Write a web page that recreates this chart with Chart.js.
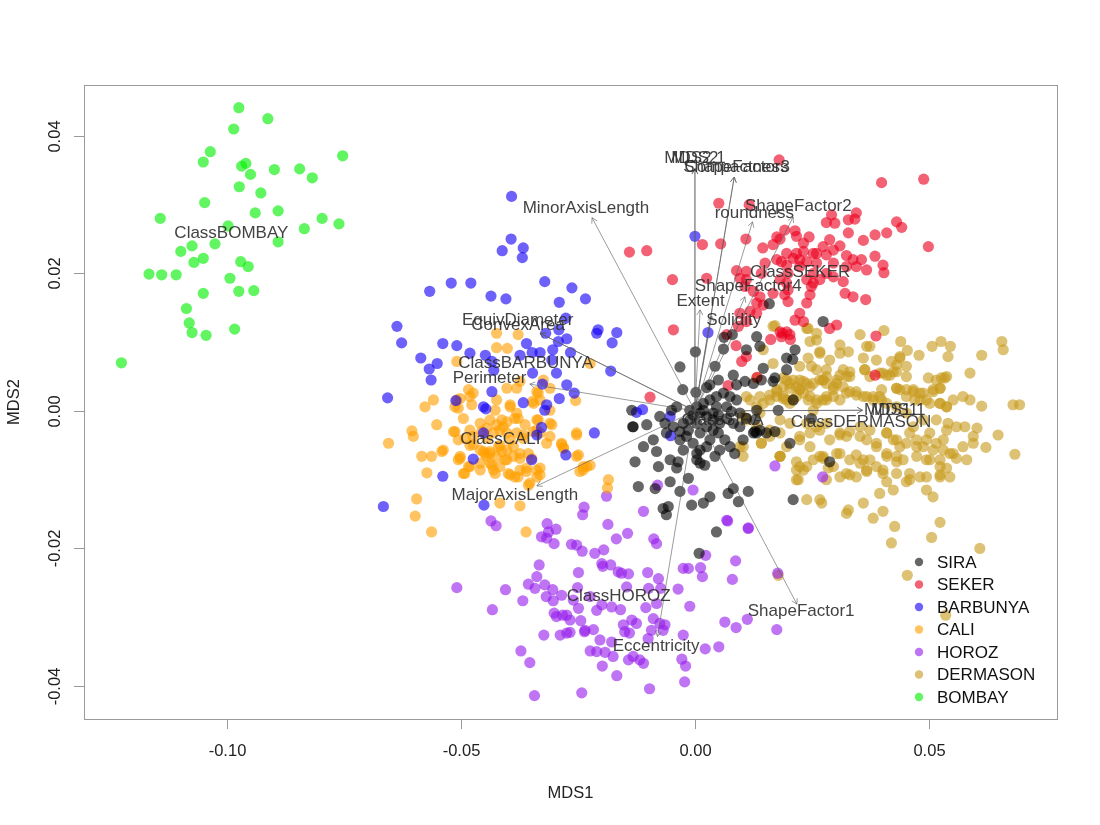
<!DOCTYPE html>
<html><head><meta charset="utf-8">
<script src="https://cdn.jsdelivr.net/npm/chart.js@4.4.1/dist/chart.umd.min.js"></script>
<style>html,body{margin:0;padding:0;background:#fff}#wrap{width:1100px;height:825px;position:relative}</style>
</head><body><div id="wrap"><canvas id="c" width="1100" height="825"></canvas></div>
<script>
const classes = ['SIRA','SEKER','BARBUNYA','CALI','HOROZ','DERMASON','BOMBAY'];
const classColors = ['rgba(0,0,0,0.6)','rgba(235,0,30,0.62)','rgba(20,0,245,0.62)','rgba(255,160,0,0.62)','rgba(150,30,235,0.62)','rgba(200,155,30,0.62)','rgba(0,240,0,0.62)'];

const sira = [[0.0001,0.0086],[-0.0032,0.0064],[-0.0026,0.0031],[0.0002,0.0027],[0.0062,0.0107],[0.0080,0.0111],[0.0061,0.0090],[0.0110,0.0089],[0.0132,0.0108],[0.0139,0.0094],[0.0159,0.0156],[0.0214,0.0089],[0.0196,0.0077],[0.0209,0.0075],[0.0274,0.0130],[0.0043,0.0065],[0.0082,0.0052],[0.0050,0.0045],[0.0032,0.0038],[0.0025,0.0034],[0.0089,0.0038],[0.0107,0.0043],[0.0125,0.0040],[0.0146,0.0062],[0.0142,0.0045],[0.0167,0.0043],[0.0196,0.0060],[0.0004,0.0006],[0.0018,0.0001],[0.0046,0.0006],[0.0050,-0.0006],[0.0068,-0.0011],[0.0078,-0.0001],[0.0096,-0.0003],[0.0110,-0.0011],[0.0128,-0.0013],[0.0139,-0.0028],[0.0125,-0.0032],[-0.0011,-0.0013],[-0.0025,-0.0018],[0.0004,-0.0018],[0.0025,-0.0023],[0.0039,-0.0028],[0.0011,-0.0032],[-0.0018,-0.0037],[-0.0032,-0.0042],[-0.0004,-0.0047],[0.0011,-0.0057],[0.0032,-0.0042],[0.0050,-0.0032],[0.0064,-0.0042],[0.0075,-0.0052],[0.0085,-0.0062],[0.0053,-0.0057],[0.0103,-0.0042],[0.0153,-0.0032],[0.0132,0.0001],[-0.0039,0.0006],[-0.0050,0.0001],[-0.0075,-0.0008],[-0.0103,-0.0020],[-0.0132,-0.0023],[-0.0064,-0.0018],[-0.0046,-0.0023],[-0.0032,-0.0030],[-0.0061,-0.0032],[-0.0089,-0.0042],[-0.0110,-0.0052],[-0.0082,-0.0059],[-0.0128,-0.0074],[-0.0078,-0.0081],[-0.0053,-0.0071],[-0.0036,-0.0074],[-0.0039,-0.0083],[-0.0053,-0.0103],[-0.0014,-0.0098],[0.0011,-0.0076],[0.0021,-0.0079],[0.0004,-0.0062],[-0.0032,-0.0117],[-0.0121,-0.0110],[-0.0085,-0.0113],[-0.0057,-0.0139],[-0.0068,-0.0142],[-0.0061,-0.0151],[-0.0007,-0.0137],[0.0018,-0.0134],[0.0032,-0.0125],[0.0071,-0.0120],[0.0082,-0.0113],[0.0114,-0.0117],[0.0093,-0.0132],[0.0046,-0.0176],[0.0210,-0.0129],[0.0203,-0.0047],[0.0288,-0.0074],[-0.0135,0.0001],[-0.0133,-0.0023],[0.0171,-0.0030],[0.0128,-0.0030],[0.0009,-0.0207],[0.0011,-0.0003],[0.0025,-0.0008],[0.0039,-0.0013],[0.0053,-0.0018],[0.0018,0.0011],[0.0032,0.0016],[0.0046,0.0021],[0.0061,0.0026],[0.0075,0.0021],[0.0089,0.0016],[0.0068,0.0006],[0.0082,-0.0018],[0.0096,-0.0023],[0.0039,-0.0003],[-0.0004,-0.0006],[-0.0014,-0.0028],[0.0025,-0.0052],[0.0043,-0.0066],[0.0004,-0.0071],[-0.0025,-0.0057],[-0.0011,0.0001],[0.0171,0.0048],[0.0178,0.0001],[0.0132,-0.0032],[0.0249,-0.0011],[0.0210,0.0016]];

const seker = [[0.0180,0.0365],[0.0399,0.0332],[0.0489,0.0337],[0.0051,0.0302],[0.0116,0.0300],[0.0292,0.0285],[0.0299,0.0273],[0.0281,0.0274],[0.0328,0.0278],[0.0345,0.0288],[0.0342,0.0279],[0.0431,0.0275],[0.0442,0.0267],[0.0499,0.0239],[0.0328,0.0259],[0.0192,0.0263],[0.0214,0.0262],[0.0217,0.0254],[0.0244,0.0253],[0.0182,0.0250],[0.0175,0.0253],[0.0109,0.0250],[0.0016,0.0242],[0.0055,0.0243],[-0.0140,0.0231],[-0.0103,0.0233],[0.0145,0.0237],[0.0167,0.0242],[0.0232,0.0244],[0.0260,0.0229],[0.0288,0.0249],[0.0310,0.0240],[0.0296,0.0234],[0.0360,0.0248],[0.0385,0.0256],[0.0410,0.0259],[0.0385,0.0225],[0.0402,0.0212],[0.0404,0.0201],[0.0274,0.0239],[0.0281,0.0227],[0.0324,0.0226],[0.0338,0.0220],[0.0356,0.0220],[0.0324,0.0210],[0.0345,0.0210],[0.0367,0.0205],[0.0196,0.0229],[0.0217,0.0229],[0.0232,0.0232],[0.0253,0.0229],[0.0175,0.0220],[0.0185,0.0217],[0.0210,0.0222],[0.0224,0.0220],[0.0239,0.0217],[0.0260,0.0215],[0.0296,0.0215],[0.0150,0.0215],[0.0142,0.0200],[0.0089,0.0204],[0.0110,0.0203],[0.0196,0.0212],[0.0199,0.0200],[0.0224,0.0210],[0.0253,0.0200],[0.0281,0.0200],[0.0296,0.0195],[0.0317,0.0188],[0.0321,0.0171],[0.0338,0.0166],[0.0365,0.0162],[-0.0048,0.0191],[0.0025,0.0193],[0.0096,0.0193],[0.0110,0.0191],[0.0182,0.0191],[0.0196,0.0186],[0.0239,0.0191],[0.0253,0.0186],[0.0267,0.0191],[0.0107,0.0181],[0.0125,0.0174],[0.0139,0.0166],[0.0167,0.0171],[0.0192,0.0169],[0.0199,0.0176],[0.0246,0.0169],[0.0239,0.0157],[0.0249,0.0181],[0.0132,0.0157],[0.0146,0.0154],[0.0118,0.0145],[0.0132,0.0142],[0.0199,0.0159],[0.0224,0.0142],[0.0214,0.0132],[0.0232,0.0130],[0.0096,0.0142],[0.0110,0.0130],[0.0093,0.0123],[0.0068,0.0111],[0.0182,0.0115],[0.0196,0.0115],[0.0185,0.0108],[0.0203,0.0111],[0.0288,0.0120],[0.0303,0.0125],[-0.0046,0.0118],[-0.0096,0.0020],[0.0088,0.0095],[0.0100,0.0072],[0.0110,0.0079],[0.0071,0.0037],[0.0133,0.0049],[0.0162,0.0104],[0.0187,0.0113],[0.0204,0.0104],[0.0387,0.0109],[0.0385,0.0052]];

const barbunya = [[-0.0392,0.0312],[-0.0393,0.0250],[-0.0367,0.0237],[-0.0412,0.0233],[-0.0369,0.0223],[-0.0567,0.0174],[-0.0521,0.0186],[-0.0479,0.0186],[-0.0321,0.0188],[-0.0263,0.0179],[-0.0436,0.0167],[-0.0404,0.0163],[-0.0234,0.0163],[-0.0290,0.0158],[-0.0637,0.0123],[-0.0627,0.0099],[-0.0539,0.0098],[-0.0509,0.0095],[-0.0586,0.0077],[-0.0551,0.0069],[-0.0568,0.0061],[-0.0564,0.0045],[-0.0481,0.0084],[-0.0448,0.0081],[-0.0434,0.0072],[-0.0430,0.0059],[-0.0360,0.0098],[-0.0348,0.0085],[-0.0331,0.0085],[-0.0374,0.0081],[-0.0319,0.0113],[-0.0291,0.0118],[-0.0276,0.0135],[-0.0274,0.0105],[-0.0292,0.0101],[-0.0304,0.0089],[-0.0306,0.0074],[-0.0266,0.0085],[-0.0210,0.0113],[-0.0207,0.0118],[-0.0167,0.0114],[-0.0177,0.0099],[-0.0180,0.0058],[-0.0296,0.0055],[-0.0347,0.0055],[-0.0326,0.0039],[-0.0274,0.0038],[-0.0258,0.0026],[-0.0290,0.0018],[-0.0367,0.0012],[-0.0317,0.0009],[-0.0321,0.0001],[-0.0452,0.0006],[-0.0447,0.0003],[-0.0434,0.0028],[-0.0511,0.0015],[-0.0657,0.0019],[-0.0328,-0.0024],[-0.0215,-0.0032],[-0.0276,-0.0064],[-0.0452,-0.0032],[-0.0349,-0.0071],[-0.0474,-0.0070],[-0.0539,-0.0095],[-0.0666,-0.0139],[-0.0451,-0.0137],[0.0000,0.0254],[0.0028,0.0114],[-0.0112,0.0002],[-0.0125,-0.0002],[-0.0053,-0.0008],[-0.0052,-0.0036],[-0.0338,-0.0035]];

const cali = [[-0.0424,0.0113],[-0.0378,0.0111],[-0.0424,0.0092],[-0.0401,0.0091],[-0.0224,0.0069],[-0.0509,0.0072],[-0.0484,0.0031],[-0.0474,0.0026],[-0.0577,0.0006],[-0.0559,0.0016],[-0.0509,0.0016],[-0.0506,0.0004],[-0.0481,0.0021],[-0.0424,0.0016],[-0.0402,0.0033],[-0.0381,0.0033],[-0.0374,0.0043],[-0.0324,0.0045],[-0.0335,0.0026],[-0.0347,0.0014],[-0.0310,0.0001],[-0.0255,0.0015],[-0.0395,0.0006],[-0.0495,-0.0011],[-0.0459,-0.0018],[-0.0381,-0.0003],[-0.0378,-0.0011],[-0.0338,-0.0013],[-0.0306,-0.0020],[-0.0552,-0.0020],[-0.0605,-0.0029],[-0.0602,-0.0037],[-0.0655,-0.0047],[-0.0513,-0.0030],[-0.0481,-0.0028],[-0.0474,-0.0037],[-0.0445,-0.0025],[-0.0431,-0.0032],[-0.0417,-0.0028],[-0.0402,-0.0032],[-0.0410,-0.0023],[-0.0381,-0.0032],[-0.0367,-0.0035],[-0.0346,-0.0030],[-0.0317,-0.0047],[-0.0285,-0.0049],[-0.0281,-0.0054],[-0.0253,-0.0035],[-0.0249,-0.0064],[-0.0584,-0.0066],[-0.0563,-0.0066],[-0.0541,-0.0059],[-0.0506,-0.0071],[-0.0502,-0.0066],[-0.0459,-0.0057],[-0.0449,-0.0062],[-0.0438,-0.0062],[-0.0424,-0.0066],[-0.0413,-0.0059],[-0.0406,-0.0071],[-0.0388,-0.0066],[-0.0374,-0.0069],[-0.0356,-0.0062],[-0.0349,-0.0069],[-0.0481,-0.0081],[-0.0492,-0.0091],[-0.0434,-0.0079],[-0.0427,-0.0091],[-0.0399,-0.0091],[-0.0385,-0.0096],[-0.0374,-0.0086],[-0.0360,-0.0088],[-0.0338,-0.0086],[-0.0331,-0.0093],[-0.0573,-0.0090],[-0.0239,-0.0081],[-0.0224,-0.0079],[-0.0246,-0.0088],[-0.0356,-0.0108],[-0.0185,-0.0100],[-0.0595,-0.0128],[-0.0598,-0.0153],[-0.0563,-0.0176],[-0.0417,-0.0134],[-0.0374,-0.0138],[-0.0361,-0.0176],[-0.0187,-0.0112],[-0.0445,-0.0040],[-0.0417,-0.0050],[-0.0395,-0.0042],[-0.0438,-0.0013],[-0.0427,0.0001],[-0.0363,-0.0020],[-0.0481,-0.0050],[-0.0459,-0.0086],[-0.0502,0.0018],[-0.0513,0.0006],[-0.0477,0.0009],[-0.0395,0.0009],[-0.0385,-0.0011],[-0.0338,0.0028],[-0.0331,0.0016],[-0.0345,0.0011],[-0.0310,0.0033],[-0.0456,-0.0030],[-0.0424,-0.0020],[-0.0413,-0.0013],[-0.0402,-0.0016],[-0.0420,-0.0052],[-0.0402,-0.0057],[-0.0388,-0.0052],[-0.0374,-0.0062],[-0.0367,-0.0040],[-0.0335,-0.0013],[-0.0310,-0.0018],[-0.0338,-0.0028],[-0.0331,-0.0032],[-0.0310,-0.0037],[-0.0516,-0.0030],[-0.0506,-0.0042],[-0.0538,-0.0057],[-0.0491,-0.0040],[-0.0474,-0.0049],[-0.0502,-0.0069],[-0.0484,-0.0081],[-0.0495,-0.0091],[-0.0459,-0.0076],[-0.0445,-0.0066],[-0.0438,-0.0076],[-0.0431,-0.0086],[-0.0417,-0.0081],[-0.0395,-0.0093],[-0.0378,-0.0096],[-0.0360,-0.0083],[-0.0338,-0.0096],[-0.0331,-0.0083],[-0.0353,-0.0105],[-0.0438,-0.0059],[-0.0452,-0.0059],[-0.0402,-0.0071],[-0.0285,-0.0047],[-0.0281,-0.0054],[-0.0253,-0.0032],[-0.0253,-0.0066],[-0.0239,-0.0086],[-0.0231,-0.0081]];

const horoz = [[-0.0237,-0.0140],[-0.0240,-0.0151],[-0.0436,-0.0160],[-0.0425,-0.0167],[-0.0316,-0.0164],[-0.0297,-0.0172],[-0.0313,-0.0176],[-0.0328,-0.0183],[-0.0317,-0.0185],[-0.0301,-0.0193],[-0.0186,-0.0165],[-0.0144,-0.0178],[-0.0168,-0.0186],[-0.0264,-0.0194],[-0.0253,-0.0195],[-0.0241,-0.0204],[-0.0214,-0.0207],[-0.0195,-0.0202],[-0.0088,-0.0186],[-0.0082,-0.0193],[0.0070,-0.0160],[0.0114,-0.0170],[0.0023,-0.0210],[0.0087,-0.0218],[0.0080,-0.0245],[0.0016,-0.0241],[0.0012,-0.0228],[-0.0014,-0.0229],[-0.0025,-0.0229],[-0.0333,-0.0224],[-0.0338,-0.0241],[-0.0356,-0.0252],[-0.0342,-0.0258],[-0.0321,-0.0253],[-0.0304,-0.0260],[-0.0318,-0.0270],[-0.0303,-0.0276],[-0.0285,-0.0268],[-0.0283,-0.0297],[-0.0301,-0.0294],[-0.0296,-0.0299],[-0.0368,-0.0276],[-0.0405,-0.0260],[-0.0433,-0.0289],[-0.0509,-0.0257],[-0.0199,-0.0222],[-0.0197,-0.0226],[-0.0180,-0.0224],[-0.0164,-0.0234],[-0.0157,-0.0236],[-0.0142,-0.0237],[-0.0146,-0.0256],[-0.0101,-0.0235],[-0.0078,-0.0244],[-0.0073,-0.0258],[-0.0099,-0.0258],[-0.0249,-0.0235],[-0.0251,-0.0257],[-0.0249,-0.0287],[-0.0274,-0.0297],[-0.0267,-0.0304],[-0.0244,-0.0305],[-0.0235,-0.0319],[-0.0217,-0.0318],[-0.0210,-0.0290],[-0.0199,-0.0282],[-0.0178,-0.0285],[-0.0159,-0.0289],[-0.0203,-0.0333],[-0.0178,-0.0336],[-0.0224,-0.0349],[-0.0210,-0.0350],[-0.0192,-0.0351],[-0.0175,-0.0357],[-0.0198,-0.0371],[-0.0167,-0.0385],[-0.0142,-0.0362],[-0.0132,-0.0357],[-0.0110,-0.0367],[-0.0118,-0.0362],[-0.0140,-0.0323],[-0.0150,-0.0321],[-0.0153,-0.0311],[-0.0135,-0.0304],[-0.0125,-0.0309],[-0.0105,-0.0286],[-0.0082,-0.0280],[-0.0089,-0.0302],[-0.0075,-0.0309],[-0.0064,-0.0311],[-0.0068,-0.0319],[-0.0093,-0.0319],[-0.0100,-0.0331],[-0.0025,-0.0326],[-0.0028,-0.0361],[-0.0020,-0.0371],[-0.0022,-0.0394],[-0.0097,-0.0404],[-0.0242,-0.0410],[-0.0343,-0.0414],[-0.0353,-0.0366],[-0.0372,-0.0349],[-0.0323,-0.0326],[-0.0288,-0.0326],[-0.0274,-0.0323],[-0.0267,-0.0322],[-0.0236,-0.0321],[-0.0011,-0.0284],[0.0022,-0.0346],[0.0051,-0.0343],[0.0064,-0.0307],[0.0088,-0.0315],[0.0112,-0.0303],[0.0175,-0.0318],[0.0177,-0.0236],[-0.0110,-0.0146],[-0.0036,-0.0259],[-0.0260,-0.0275],[-0.0224,-0.0270],[0.0171,-0.0080],[0.0273,-0.0096],[-0.0080,-0.0108],[-0.0004,-0.0115],[-0.0189,-0.0124],[0.0068,-0.0159],[0.0114,-0.0171]];

const dermason = [[0.0171,0.0124],[0.0242,0.0120],[0.0260,0.0113],[0.0246,0.0101],[0.0260,0.0103],[0.0353,0.0111],[0.0404,0.0117],[0.0374,0.0094],[0.0440,0.0101],[0.0454,0.0088],[0.0479,0.0081],[0.0507,0.0094],[0.0526,0.0101],[0.0546,0.0094],[0.0541,0.0079],[0.0613,0.0081],[0.0656,0.0101],[0.0659,0.0089],[0.0310,0.0096],[0.0328,0.0086],[0.0310,0.0084],[0.0288,0.0074],[0.0242,0.0077],[0.0249,0.0065],[0.0281,0.0060],[0.0267,0.0084],[0.0360,0.0077],[0.0363,0.0060],[0.0395,0.0055],[0.0410,0.0052],[0.0424,0.0057],[0.0431,0.0067],[0.0438,0.0077],[0.0420,0.0072],[0.0499,0.0048],[0.0527,0.0048],[0.0538,0.0050],[0.0588,0.0055],[0.0509,0.0031],[0.0524,0.0033],[0.0552,0.0016],[0.0573,0.0021],[0.0588,0.0016],[0.0613,0.0007],[0.0680,0.0009],[0.0694,0.0009],[0.0648,-0.0035],[0.0622,-0.0053],[0.0684,-0.0063],[0.0603,-0.0025],[0.0577,-0.0023],[0.0595,-0.0037],[0.0431,0.0033],[0.0438,0.0031],[0.0467,0.0031],[0.0481,0.0026],[0.0452,0.0021],[0.0470,0.0016],[0.0495,0.0016],[0.0524,0.0011],[0.0538,0.0006],[0.0399,0.0031],[0.0395,0.0021],[0.0381,0.0016],[0.0367,0.0021],[0.0345,0.0023],[0.0324,0.0026],[0.0310,0.0016],[0.0296,0.0021],[0.0274,0.0016],[0.0260,0.0011],[0.0246,0.0021],[0.0224,0.0045],[0.0239,0.0040],[0.0203,0.0040],[0.0189,0.0035],[0.0175,0.0031],[0.0160,0.0023],[0.0139,0.0021],[0.0189,0.0021],[0.0210,0.0016],[0.0224,0.0031],[0.0267,0.0045],[0.0281,0.0040],[0.0303,0.0045],[0.0324,0.0050],[0.0331,0.0057],[0.0310,0.0052],[0.0103,-0.0008],[0.0139,-0.0003],[0.0160,-0.0028],[0.0142,-0.0047],[0.0103,-0.0052],[0.0182,-0.0013],[0.0203,-0.0018],[0.0239,-0.0018],[0.0260,-0.0023],[0.0281,-0.0018],[0.0310,-0.0032],[0.0331,-0.0030],[0.0353,-0.0037],[0.0367,-0.0042],[0.0388,-0.0047],[0.0410,-0.0032],[0.0424,-0.0042],[0.0438,-0.0052],[0.0459,-0.0032],[0.0474,-0.0042],[0.0488,-0.0052],[0.0502,-0.0032],[0.0516,-0.0047],[0.0531,-0.0057],[0.0552,-0.0062],[0.0573,-0.0052],[0.0595,-0.0047],[0.0538,-0.0028],[0.0559,-0.0023],[0.0182,-0.0066],[0.0217,-0.0074],[0.0232,-0.0086],[0.0221,-0.0100],[0.0253,-0.0071],[0.0274,-0.0066],[0.0285,-0.0083],[0.0310,-0.0096],[0.0331,-0.0093],[0.0303,-0.0062],[0.0345,-0.0064],[0.0360,-0.0071],[0.0367,-0.0088],[0.0388,-0.0081],[0.0410,-0.0066],[0.0431,-0.0074],[0.0445,-0.0071],[0.0402,-0.0091],[0.0410,-0.0103],[0.0424,-0.0115],[0.0395,-0.0120],[0.0452,-0.0103],[0.0459,-0.0100],[0.0481,-0.0096],[0.0495,-0.0115],[0.0509,-0.0125],[0.0524,-0.0096],[0.0538,-0.0083],[0.0559,-0.0069],[0.0581,-0.0071],[0.0524,-0.0071],[0.0495,-0.0071],[0.0239,-0.0129],[0.0271,-0.0134],[0.0328,-0.0144],[0.0324,-0.0149],[0.0360,-0.0134],[0.0381,-0.0156],[0.0402,-0.0146],[0.0427,-0.0168],[0.0420,-0.0192],[0.0506,-0.0184],[0.0524,-0.0162],[0.0609,-0.0200],[0.0454,-0.0239],[0.0536,-0.0297],[0.0178,-0.0239],[0.0167,0.0123],[0.0239,0.0120],[0.0267,0.0086],[0.0196,0.0045],[0.0217,0.0035],[0.0232,0.0026],[0.0253,0.0040],[0.0274,0.0045],[0.0296,0.0035],[0.0175,0.0021],[0.0196,0.0016],[0.0253,0.0001],[0.0281,0.0016],[0.0118,0.0016],[0.0132,0.0006],[0.0110,-0.0013],[0.0132,-0.0023],[0.0096,-0.0052],[0.0103,-0.0066],[0.0160,-0.0037],[0.0182,-0.0032],[0.0196,-0.0052],[0.0224,-0.0037],[0.0246,-0.0052],[0.0267,-0.0066],[0.0224,-0.0081],[0.0182,-0.0066],[0.0217,-0.0100],[0.0267,-0.0129],[0.0281,-0.0100],[0.0146,0.0089],[0.0167,0.0069],[0.0224,0.0065],[0.0260,0.0060],[0.0132,0.0048],[0.0110,0.0021],
[0.0317,0.0060],[0.0331,0.0050],[0.0367,0.0094],[0.0388,0.0074],[0.0363,0.0060],[0.0374,0.0050],[0.0402,0.0055],[0.0417,0.0052],[0.0431,0.0057],[0.0452,0.0050],[0.0452,0.0065],[0.0438,0.0079],[0.0431,0.0033],[0.0452,0.0031],[0.0467,0.0028],[0.0488,0.0026],[0.0509,0.0028],[0.0524,0.0033],[0.0534,0.0048],[0.0516,0.0045],[0.0481,0.0016],[0.0502,0.0011],[0.0524,0.0011],[0.0538,0.0006],[0.0541,-0.0018],[0.0516,-0.0013],[0.0488,-0.0013],[0.0467,-0.0023],[0.0452,-0.0003],[0.0431,0.0006],[0.0410,0.0011],[0.0399,0.0016],[0.0381,0.0021],[0.0360,0.0021],[0.0345,0.0028],[0.0331,0.0028],[0.0317,0.0035],[0.0303,0.0040],[0.0296,0.0031],[0.0281,0.0021],[0.0260,0.0016],[0.0242,0.0016],[0.0217,0.0021],[0.0203,0.0011],[0.0189,0.0018],[0.0175,0.0028],[0.0160,0.0016],[0.0146,0.0011],[0.0189,0.0048],[0.0210,0.0045],[0.0232,0.0043],[0.0246,0.0035],[0.0274,0.0045],[0.0281,0.0050],[0.0203,0.0033],[0.0224,0.0031],[0.0142,-0.0047],[0.0182,-0.0066],[0.0224,-0.0042],[0.0246,-0.0032],[0.0267,-0.0028],[0.0288,-0.0042],[0.0310,-0.0035],[0.0324,-0.0037],[0.0353,-0.0023],[0.0374,-0.0028],[0.0410,-0.0032],[0.0431,-0.0042],[0.0452,-0.0047],[0.0474,-0.0052],[0.0495,-0.0042],[0.0509,-0.0057],[0.0531,-0.0042],[0.0545,-0.0062],[0.0310,-0.0062],[0.0331,-0.0071],[0.0353,-0.0076],[0.0374,-0.0071],[0.0388,-0.0052],[0.0410,-0.0062],[0.0431,-0.0066],[0.0474,-0.0066],[0.0502,-0.0071],[0.0524,-0.0081],[0.0217,-0.0086],[0.0239,-0.0081],[0.0274,-0.0069],[0.0296,-0.0081],[0.0324,-0.0091],[0.0345,-0.0096],[0.0367,-0.0086],[0.0402,-0.0086],[0.0431,-0.0091],[0.0459,-0.0091],[0.0495,-0.0096],[0.0524,-0.0093],[0.0545,-0.0096]];

const bombay = [[-0.0975,0.0441],[-0.0913,0.0425],[-0.0986,0.0410],[-0.1036,0.0377],[-0.1051,0.0362],[-0.0753,0.0371],[-0.0969,0.0356],[-0.0960,0.0360],[-0.0950,0.0344],[-0.0899,0.0351],[-0.0845,0.0352],[-0.0818,0.0339],[-0.0974,0.0326],[-0.0928,0.0317],[-0.1048,0.0303],[-0.0940,0.0288],[-0.0891,0.0291],[-0.1143,0.0280],[-0.0797,0.0280],[-0.0761,0.0272],[-0.0835,0.0265],[-0.0998,0.0269],[-0.0891,0.0246],[-0.1026,0.0243],[-0.1075,0.0240],[-0.1099,0.0232],[-0.1051,0.0222],[-0.1071,0.0216],[-0.0971,0.0217],[-0.0955,0.0210],[-0.1167,0.0199],[-0.1140,0.0198],[-0.1109,0.0198],[-0.0994,0.0193],[-0.1051,0.0171],[-0.0975,0.0174],[-0.0943,0.0175],[-0.1087,0.0149],[-0.1081,0.0128],[-0.1075,0.0114],[-0.1045,0.0110],[-0.0984,0.0119],[-0.1226,0.0070]];

const classPoints = [sira, seker, barbunya, cali, horoz, dermason, bombay];

// axis ticks
const xTicks = [-0.10, -0.05, 0.00, 0.05];
const xTickLabels = ['-0.10', '-0.05', '0.00', '0.05'];
const yTicks = [-0.04, -0.02, 0.00, 0.02, 0.04];
const yTickLabels = ['-0.04', '-0.02', '0.00', '0.02', '0.04'];
const xTitle = 'MDS1', yTitle = 'MDS2';

// fitted vectors (arrow tip + label position)
const vecNames = ['MinorAxisLength','MDS2','MDS2.1','ShapeFactor3','Compactness','roundness','ShapeFactor2','ShapeFactor4','Extent','Solidity','EquivDiameter','ConvexArea','Perimeter','MajorAxisLength','MDS1','MDS1.1','ShapeFactor1','Eccentricity'];
const vecTipX = [-0.0220, 0.0000, 0.0000, 0.0084, 0.0084, 0.0123, 0.0210, 0.0107, 0.0011, 0.0036, -0.0331, -0.0331, -0.0353, -0.0338, 0.0358, 0.0358, 0.0218, -0.0080];
const vecTipY = [0.0281, 0.0352, 0.0352, 0.0340, 0.0340, 0.0275, 0.0282, 0.0166, 0.0147, 0.0138, 0.0113, 0.0113, 0.0039, -0.0109, 0.0001, 0.0001, -0.0281, -0.0328];
const vecLabX = [-0.0233, 0.0000, 0.0000, 0.0089, 0.0089, 0.0127, 0.0221, 0.0114, 0.0012, 0.0083, -0.0379, -0.0378, -0.0439, -0.0385, 0.0427, 0.0427, 0.0227, -0.0083];
const vecLabY = [0.0294, 0.0368, 0.0368, 0.0355, 0.0355, 0.0288, 0.0297, 0.0181, 0.0159, 0.0132, 0.0132, 0.0124, 0.0047, -0.0122, 0.0001, 0.0001, -0.0292, -0.0343];

// class centroids
const ctrNames = ['ClassBOMBAY','ClassSEKER','ClassBARBUNYA','ClassCALI','ClassDERMASON','ClassHOROZ','ClassSIRA'];
const ctrX = [-0.0991, 0.0225, -0.0362, -0.0416, 0.0355, -0.0163, 0.0059];
const ctrY = [0.0258, 0.0201, 0.0069, -0.0041, -0.0017, -0.0269, -0.0014];

const FONT = '"Liberation Sans", Arial, Helvetica, sans-serif';

function drawArrow(ctx, x0, y0, x1, y1) {
  const a = Math.atan2(y1 - y0, x1 - x0), L = 6, h = Math.PI / 6;
  ctx.beginPath();
  ctx.moveTo(x0, y0); ctx.lineTo(x1, y1);
  ctx.moveTo(x1, y1); ctx.lineTo(x1 - L * Math.cos(a - h), y1 - L * Math.sin(a - h));
  ctx.moveTo(x1, y1); ctx.lineTo(x1 - L * Math.cos(a + h), y1 - L * Math.sin(a + h));
  ctx.stroke();
}

const overlay = {
  id: 'overlay',
  afterDatasetsDraw(chart) {
    const ctx = chart.ctx, a = chart.chartArea, xs = chart.scales.x, ys = chart.scales.y;
    ctx.save();
    // arrows
    ctx.strokeStyle = 'rgba(90,90,90,0.6)';
    ctx.lineWidth = 1;
    const x0 = xs.getPixelForValue(0), y0 = ys.getPixelForValue(0);
    vecNames.forEach((n, i) => {
      drawArrow(ctx, x0, y0, xs.getPixelForValue(vecTipX[i]), ys.getPixelForValue(vecTipY[i]));
    });
    // labels
    ctx.fillStyle = 'rgba(45,45,45,0.9)';
    ctx.font = '17px ' + FONT;
    ctx.textAlign = 'center';
    ctx.textBaseline = 'middle';
    vecNames.forEach((n, i) => {
      ctx.fillText(n, xs.getPixelForValue(vecLabX[i]), ys.getPixelForValue(vecLabY[i]));
    });
    ctrNames.forEach((n, i) => {
      ctx.fillText(n, xs.getPixelForValue(ctrX[i]), ys.getPixelForValue(ctrY[i]));
    });
    // frame
    ctx.strokeStyle = '#9a9a9a';
    ctx.lineWidth = 1;
    ctx.strokeRect(Math.round(a.left) + 0.5, Math.round(a.top) + 0.5, Math.round(a.width), Math.round(a.height));
    // x ticks
    ctx.fillStyle = '#222';
    ctx.font = '16.5px ' + FONT;
    ctx.textAlign = 'center';
    ctx.textBaseline = 'middle';
    xTicks.forEach((v, i) => {
      const px = Math.round(xs.getPixelForValue(v)) + 0.5;
      ctx.beginPath(); ctx.moveTo(px, a.bottom); ctx.lineTo(px, a.bottom + 10); ctx.stroke();
      ctx.fillText(xTickLabels[i], px, a.bottom + 32);
    });
    // y ticks (rotated labels)
    yTicks.forEach((v, i) => {
      const py = Math.round(ys.getPixelForValue(v)) + 0.5;
      ctx.beginPath(); ctx.moveTo(a.left, py); ctx.lineTo(a.left - 10, py); ctx.stroke();
      ctx.save();
      ctx.translate(a.left - 29, py);
      ctx.rotate(-Math.PI / 2);
      ctx.fillText(yTickLabels[i], 0, 0);
      ctx.restore();
    });
    // axis titles
    ctx.fillText(xTitle, (a.left + a.right) / 2, a.bottom + 74);
    ctx.save();
    ctx.translate(14, (a.top + a.bottom) / 2);
    ctx.rotate(-Math.PI / 2);
    ctx.fillText(yTitle, 0, 0);
    ctx.restore();
    // legend
    ctx.textAlign = 'left';
    ctx.font = '17px ' + FONT;
    const lx = a.right - 138, ly = a.bottom - 157, step = 22.5;
    classes.forEach((c, i) => {
      ctx.fillStyle = classColors[i];
      ctx.beginPath(); ctx.arc(lx, ly + i * step, 4.2, 0, Math.PI * 2); ctx.fill();
      ctx.fillStyle = '#111';
      ctx.fillText(c, lx + 18, ly + i * step + 1);
    });
    ctx.restore();
  }
};

const datasets = classes.map((c, i) => ({
  label: c,
  data: classPoints[i].map(p => ({ x: p[0], y: p[1] })),
  backgroundColor: classColors[i],
  borderWidth: 0,
  pointRadius: 5.6,
  pointHoverRadius: 5.6
}));

new Chart(document.getElementById('c'), {
  type: 'scatter',
  data: { datasets },
  options: {
    responsive: false,
    animation: false,
    events: [],
    layout: { padding: { left: 84, top: 85, right: 43, bottom: 106 } },
    plugins: { legend: { display: false }, tooltip: { enabled: false } },
    scales: {
      x: { type: 'linear', display: false, min: -0.1306, max: 0.0774 },
      y: { type: 'linear', display: false, min: -0.0448, max: 0.0474 }
    }
  },
  plugins: [overlay]
});
</script>
</body></html>
